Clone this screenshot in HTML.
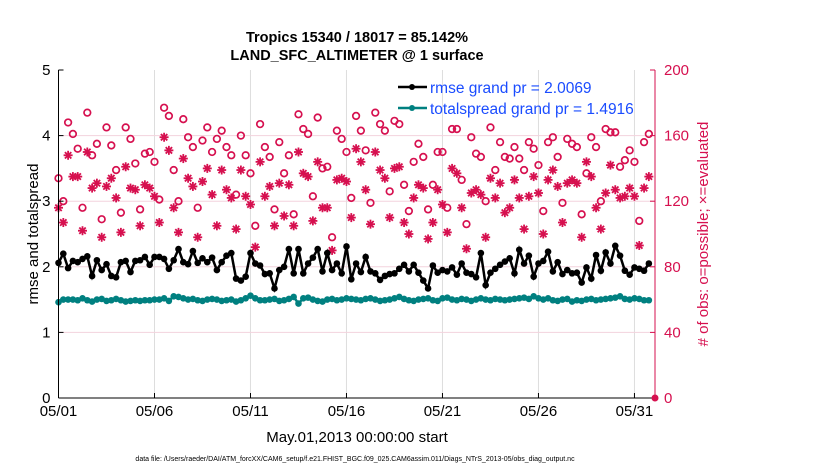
<!DOCTYPE html>
<html><head><meta charset="utf-8"><style>
body{margin:0;background:#fff;}
svg{display:block;font-family:"Liberation Sans",sans-serif;}
</style></head><body>
<svg id="chart" width="830" height="470" viewBox="0 0 830 470">
<text x="357" y="42" text-anchor="middle" font-size="14.5" font-weight="bold">Tropics 15340 / 18017 = 85.142%</text>
<text x="357" y="60" text-anchor="middle" font-size="14.5" font-weight="bold">LAND_SFC_ALTIMETER @ 1 surface</text>
<g id="grid"></g>
<g id="marks"></g>
<g id="axes"></g>
<text transform="translate(38,234) rotate(-90)" text-anchor="middle" font-size="15">rmse and totalspread</text>
<text transform="translate(708,234) rotate(-90)" text-anchor="middle" font-size="15" fill="#d6104f"># of obs: o=possible; ×=evaluated</text>
<text x="357" y="442" text-anchor="middle" font-size="15">May.01,2013 00:00:00 start</text>
<text x="355" y="461" text-anchor="middle" font-size="7">data file: /Users/raeder/DAI/ATM_forcXX/CAM6_setup/f.e21.FHIST_BGC.f09_025.CAM6assim.011/Diags_NTrS_2013-05/obs_diag_output.nc</text>
<g>
<line x1="398" y1="87" x2="427" y2="87" stroke="#000" stroke-width="2.5"/>
<circle cx="412" cy="87" r="3" fill="#000"/>
<text x="430" y="93" font-size="15.5" fill="#1a4cff">rmse grand pr = 2.0069</text>
<line x1="398" y1="108" x2="427" y2="108" stroke="#008080" stroke-width="2.5"/>
<circle cx="412" cy="108" r="3" fill="#008080"/>
<text x="430" y="114" font-size="15.5" fill="#1a4cff">totalspread grand pr = 1.4916</text>
</g>
</svg>
<script>
const rmse=[2.06,2.20,1.98,2.09,2.07,2.12,2.16,1.86,2.10,1.95,2.04,1.86,1.84,2.07,2.09,1.92,2.09,2.10,2.15,2.03,2.15,2.15,2.12,1.97,2.10,2.27,2.07,2.04,2.24,2.06,2.13,2.07,
2.14,1.95,2.07,2.17,2.21,1.82,1.79,1.85,2.21,2.05,2.02,1.89,1.90,1.67,1.95,2.00,2.27,1.90,2.27,1.90,2.05,2.14,2.27,1.93,2.21,1.95,2.05,1.90,2.31,1.81,2.05,
1.92,2.15,1.93,1.90,1.80,1.86,1.89,1.90,1.97,2.03,1.93,2.03,1.91,1.79,1.67,2.02,1.91,1.95,1.93,1.99,1.88,2.05,1.91,1.89,1.84,2.21,1.72,1.91,1.97,2.03,2.08,
2.13,1.90,2.26,2.05,2.17,1.85,2.05,2.09,2.23,1.93,2.07,1.89,1.95,1.90,1.91,1.76,1.99,1.82,2.18,1.94,2.22,2.05,2.32,2.17,1.94,1.88,1.99,1.97,1.94,2.05];
const spread=[1.46,1.50,1.50,1.50,1.49,1.52,1.49,1.47,1.50,1.51,1.48,1.49,1.51,1.49,1.47,1.48,1.49,1.48,1.49,1.49,1.50,1.50,1.52,1.48,1.55,1.54,1.52,1.50,1.51,1.49,1.48,1.50,
1.51,1.50,1.48,1.49,1.50,1.47,1.49,1.52,1.56,1.52,1.49,1.49,1.50,1.51,1.48,1.49,1.51,1.54,1.44,1.52,1.53,1.50,1.48,1.47,1.50,1.51,1.49,1.50,1.52,1.51,1.50,
1.49,1.51,1.52,1.50,1.48,1.49,1.50,1.52,1.54,1.51,1.49,1.48,1.50,1.51,1.52,1.49,1.48,1.52,1.53,1.50,1.49,1.51,1.50,1.48,1.50,1.52,1.50,1.49,1.51,1.50,1.49,
1.50,1.51,1.52,1.53,1.51,1.55,1.52,1.50,1.52,1.49,1.48,1.50,1.51,1.47,1.49,1.48,1.50,1.51,1.49,1.50,1.51,1.52,1.53,1.55,1.51,1.50,1.52,1.51,1.49,1.49];
const possible=[134,120,168,161,152,116,174,148,155,109,165,154,139,113,165,158,143,115,149,150,144,121,177,172,139,120,170,159,153,116,157,165,
150,158,163,153,148,124,160,148,137,105,167,153,147,115,156,137,148,112,173,164,161,123,171,140,141,98,163,158,150,122,172,
163,151,119,174,167,163,126,169,167,130,114,144,155,147,115,130,150,150,116,164,164,133,106,159,149,147,120,165,139,156,147,
146,153,146,139,156,152,142,114,156,159,147,119,158,155,153,112,137,159,153,120,164,162,162,141,145,151,144,108,156,161];
const evaluated=[116,107,148,135,135,102,150,128,131,98,129,134,122,101,141,128,127,105,130,128,123,107,159,151,116,101,146,134,129,98,132,140,
124,105,139,127,122,103,139,123,118,92,144,123,129,105,131,111,130,105,150,137,135,108,144,116,116,90,133,134,132,110,152,
144,127,106,150,139,134,110,140,141,107,100,122,130,128,97,107,127,118,101,140,137,116,91,125,127,124,98,134,122,131,113,
116,133,122,103,123,135,125,100,133,139,129,107,131,133,131,98,144,135,116,103,125,142,127,122,123,128,123,93,128,135];
const xTicks=["05/01","05/06","05/11","05/16","05/21","05/26","05/31"];
const xTickDays=[0,5,10,15,20,25,30];
const yLeftTicks=[0,1,2,3,4,5];
const yRightTicks=[0,40,80,120,160,200];

const NS="http://www.w3.org/2000/svg";
const X0=58.5,X1=655,Y0=398,Y1=70,DAYMAX=31.07;
const xs=d=>X0+(X1-X0)*d/DAYMAX;
const yl=v=>Y0-(Y0-Y1)*v/5;
const yr=v=>Y0-(Y0-Y1)*v/200;
const RED="#d6104f";
function mk(tag,attrs,parent){const e=document.createElementNS(NS,tag);for(const k in attrs)e.setAttribute(k,attrs[k]);parent.appendChild(e);return e;}
const grid=document.getElementById('grid'),marks=document.getElementById('marks'),axes=document.getElementById('axes');

xTickDays.forEach((d,i)=>{
  if(i>0){const g=mk('line',{x1:xs(d),x2:xs(d),y1:Y1,y2:Y0,stroke:'#dddddd','stroke-width':1},grid);
  
  }
  const t=mk('text',{x:xs(d),y:Y0+18,'text-anchor':'middle','font-size':15},axes);
  t.textContent=xTicks[i];
  
  
  mk('line',{x1:xs(d),x2:xs(d),y1:Y0,y2:Y0-5,stroke:'#000'},axes);
});
yRightTicks.forEach(v=>{
  if(v>0&&v<200){const g=mk('line',{x1:X0,x2:X1,y1:yr(v),y2:yr(v),stroke:'#f3d3dd','stroke-width':1},grid);
  
  }
  const t=mk('text',{x:X1+9,y:yr(v)+5,'font-size':15,fill:RED},axes);
  t.textContent=v;
  
  
  mk('line',{x1:X1,x2:X1-5,y1:yr(v),y2:yr(v),stroke:RED},axes);
});
yLeftTicks.forEach(v=>{
  const t=mk('text',{x:X0-8,y:yl(v)+5,'text-anchor':'end','font-size':15},axes);
  t.textContent=v;
  
  
  mk('line',{x1:X0,x2:X0+5,y1:yl(v),y2:yl(v),stroke:'#000'},axes);
});
mk('line',{x1:X0,x2:X0,y1:Y1,y2:Y0,stroke:'#000','stroke-width':1},axes);
mk('line',{x1:X0,x2:X1,y1:Y0,y2:Y0,stroke:'#000','stroke-width':1},axes);
mk('line',{x1:X1,x2:X1,y1:Y1,y2:Y0,stroke:RED,'stroke-width':1},axes);
mk('circle',{cx:X1,cy:Y0,r:3.5,fill:RED},axes);

const xi=i=>xs(i*0.25);
possible.forEach((v,i)=>{
  const c=mk('circle',{cx:xi(i),cy:yr(v),r:3.3,fill:'none',stroke:RED,'stroke-width':1.7},marks);
  
  
});
evaluated.forEach((v,i)=>{
  const g=mk('g',{transform:`translate(${xi(i)},${yr(v)})`,stroke:RED,'stroke-width':1.8},marks);
  
  
  mk('line',{x1:-4.5,x2:4.5,y1:0,y2:0},g);mk('line',{x1:0,x2:0,y1:-4.5,y2:4.5},g);
  mk('line',{x1:-3.2,x2:3.2,y1:-3.2,y2:3.2},g);mk('line',{x1:-3.2,x2:3.2,y1:3.2,y2:-3.2},g);
});
function series(arr,color,name){
  const p=mk('polyline',{points:arr.map((v,i)=>xi(i)+','+yl(v)).join(' '),fill:'none',stroke:color,'stroke-width':2.5},marks);
  
  
  arr.forEach((v,i)=>{const c=mk('circle',{cx:xi(i),cy:yl(v),r:3.3,fill:color},marks);
  
  });
}
series(spread,'#008080','totalspread');
series(rmse,'#000000','rmse');
</script>
</body></html>
